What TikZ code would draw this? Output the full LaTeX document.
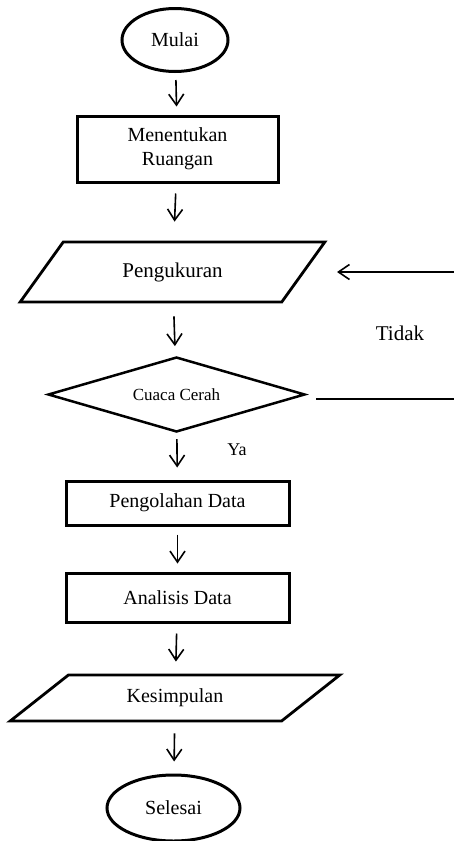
\documentclass[tikz,border=0pt]{standalone}
\usepackage{fontspec}
\setmainfont{Liberation Serif}
\usetikzlibrary{shapes.geometric,arrows.meta}

\tikzset{
    terminal/.style={draw, ellipse, line width=3pt, inner sep=0pt},
    process/.style={draw, rectangle, line width=3pt, align=center, inner sep=0pt},
    inout/.style={draw, trapezium, trapezium stretches=true, line width=2.8pt, inner sep=0pt},
    decision/.style={draw, diamond, line width=2.5pt, inner sep=0pt, aspect=3.4},
    flow/.style={-{Straight Barb[length=11pt,width=15pt]}, line width=1.6pt},
}

\begin{document}
\begin{tikzpicture}[x=1pt, y=-1pt, font=\fontsize{20}{24}\selectfont]
    \useasboundingbox (0,0) rectangle (454,841);

    \node[terminal, minimum width=106pt, minimum height=63pt] (mulai) at (175,40) {Mulai};
    \node[process, minimum width=201pt, minimum height=66pt] (ruangan) at (177.5,149) {Menentukan\\Ruangan};
    \node[inout, trapezium left angle=44, trapezium right angle=136,
          minimum width=305pt, minimum height=60pt, font=\fontsize{21}{24}\selectfont] (ukur) at (172.5,272) {Pengukuran};
    \node[decision, minimum width=257pt, minimum height=75pt, font=\fontsize{17}{20}\selectfont] (cuaca) at (176.5,394.5) {Cuaca Cerah};
    \node[process, minimum width=223pt, minimum height=44pt] (olah) at (177.5,503) {Pengolahan Data};
    \node[process, minimum width=223pt, minimum height=49pt] (analisis) at (177.5,597.5) {Analisis Data};
    \node[inout, trapezium left angle=34.5, trapezium right angle=145.5,
          minimum width=330pt, minimum height=46pt] (simpul) at (175,698) {Kesimpulan};
    \node[terminal, minimum width=133pt, minimum height=66pt] (selesai) at (173.5,808) {Selesai};

    \node[font=\fontsize{21}{24}\selectfont] (tidak) at (400,333) {Tidak};
    \node[font=\fontsize{18}{22}\selectfont] (ya) at (237,450) {Ya};

    \coordinate (tepi) at (460,399);

    \draw[flow, shorten <=7pt, shorten >=8pt] (mulai) -- (ruangan);
    \draw[flow, shorten <=10pt, shorten >=19pt] (ruangan) -- (ukur);
    \draw[flow, shorten <=13pt, shorten >=10pt] (ukur) -- (cuaca);
    \draw[flow, shorten <=6pt, shorten >=12pt] (cuaca) -- (olah);
    \draw[flow, shorten <=8pt, shorten >=8pt] (olah) -- (analisis);
    \draw[flow, shorten <=10pt, shorten >=12pt] (analisis) -- (simpul);
    \draw[flow, shorten <=11pt, shorten >=12pt] (simpul) -- (selesai);

    % balik ke pengukuran kalau tidak cerah
    \draw[flow, shorten <=10pt, shorten >=32pt] ([yshift=-4.5pt]cuaca.east) -- ([yshift=-4.5pt]cuaca.east -| tepi) |- (ukur.east);

\end{tikzpicture}
\end{document}
